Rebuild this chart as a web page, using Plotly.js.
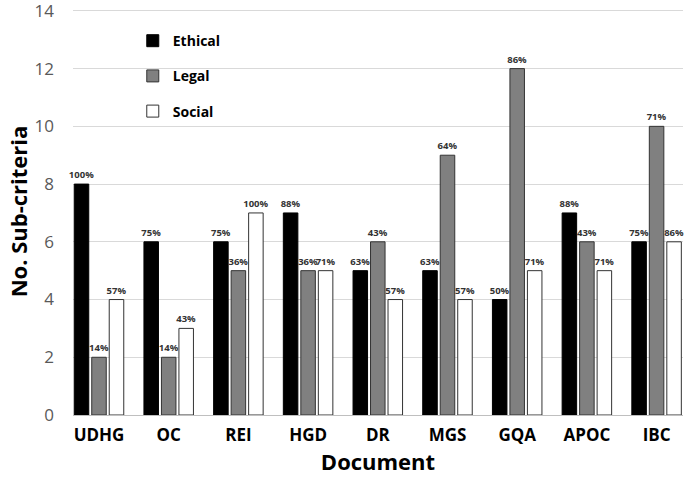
<!DOCTYPE html>
<html><head><meta charset="utf-8">
<script src="https://cdn.plot.ly/plotly-3.0.1.min.js"></script>
<style>html,body{margin:0;padding:0;background:#fff}#c{width:685px;height:479px}</style>
</head><body><div id="c"></div>
<script>
const documents = ["UDHG","OC","REI","HGD","DR","MGS","GQA","APOC","IBC"];
const ethical = [8,6,6,7,5,5,4,7,6];
const legal = [2,2,5,5,6,9,12,6,10];
const social = [4,3,7,5,4,4,5,5,6];
const ethicalPct = ["100%","75%","75%","88%","63%","63%","50%","88%","75%"];
const legalPct = ["14%","14%","36%","36%","43%","64%","86%","43%","71%"];
const socialPct = ["57%","43%","100%","71%","57%","57%","71%","71%","86%"];
const yTicks = [0,2,4,6,8,10,12,14];

function tr(name, y, txt, fill, line, grp){
  return {type:'bar', name:name, x:documents, y:y, text:txt, textposition:'outside',
    constraintext:'none', cliponaxis:false, legendgroup:grp,
    textfont:{family:'Open Sans', size:9.5, color:'#333333', weight:'bold'},
    marker:{color:fill, line:{color:line, width:1}}};
}
const data = [
  tr('Ethical', ethical, ethicalPct, '#000000', '#000000','a'),
  tr('Legal', legal, legalPct, '#808080', '#333333','b'),
  tr('Social', social, socialPct, '#ffffff', '#333333','c')
];
const layout = {
  width:685, height:479,
  margin:{l:73, r:2, t:8, b:64},
  paper_bgcolor:'#fff', plot_bgcolor:'#fff',
  barmode:'group', bargap:0.247, bargroupgap:0.17,
  font:{family:'Open Sans', color:'#000'},
  showlegend:true,
  legend:{x:0.098, y:0.958, xanchor:'left', yanchor:'top', tracegroupgap:14,
    font:{family:'Open Sans', size:14, weight:'bold', color:'#000'}, bgcolor:'rgba(0,0,0,0)'},
  xaxis:{type:'category', range:[-0.373, 8.379], showgrid:false, ticks:'', ticklabelstandoff:5,
    tickfont:{family:'Open Sans', size:17, weight:'bold', color:'#000'},
    title:{text:'Document', font:{family:'Open Sans', size:22, weight:'bold', color:'#000'}, standoff:8},
    showline:true, linecolor:'#bfbfbf', linewidth:1, zeroline:false},
  yaxis:{range:[0,14.1], tickvals:yTicks, showgrid:true, gridcolor:'#d9d9d9', gridwidth:1, zeroline:false,
    automargin:false, ticklabeloverflow:'allow',
    tickfont:{family:'Open Sans', size:17, color:'#595959'}, ticks:'', ticklabelstandoff:18,
    title:{text:'No. Sub-criteria', font:{family:'Open Sans', size:22, weight:'bold', color:'#000'}, standoff:0}}
};
Plotly.newPlot('c', data, layout, {displayModeBar:false, staticPlot:true});
</script></body></html>
